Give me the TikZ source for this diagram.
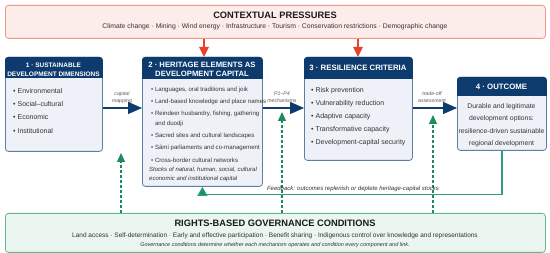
\documentclass[tikz,border=0pt]{standalone}
\usepackage{fontspec}
\setmainfont{Liberation Sans}
\usetikzlibrary{arrows.meta,calc}
\definecolor{navy}{HTML}{0E3B6D}
\definecolor{bodyfill}{HTML}{EEF2F8}
\definecolor{bodyline}{HTML}{5E7EA8}
\definecolor{pinkfill}{HTML}{FDEDEA}
\definecolor{pinkline}{HTML}{F0968A}
\definecolor{redarrow}{HTML}{E5432B}
\definecolor{greenfill}{HTML}{EAF6EF}
\definecolor{greenline}{HTML}{62B98F}
\definecolor{greenarrow}{HTML}{1E8C5A}
\definecolor{teal}{HTML}{2E9C86}
\definecolor{txt}{HTML}{333333}
\definecolor{ttl}{HTML}{1A1A1A}
\tikzset{
  bodybox/.style={draw=bodyline, fill=bodyfill, line width=0.8pt, rounded corners=3pt, inner sep=0pt, anchor=north west},
  pinkbox/.style={draw=pinkline, fill=pinkfill, line width=0.8pt, rounded corners=3pt, inner sep=0pt, anchor=north west},
  greenbox/.style={draw=greenline, fill=greenfill, line width=0.8pt, rounded corners=3pt, inner sep=0pt, anchor=north west},
  hdrtext/.style={text=white, font=\bfseries, align=center, inner sep=0pt},
  item/.style={text=txt, anchor=west, inner sep=0pt},
  lbl/.style={text=txt!80, font=\itshape\fontsize{5.2}{6}\selectfont, inner sep=0pt},
  barrow/.style={draw=navy, line width=1.2pt, -{Triangle[length=14pt,width=12pt]}},
  rarrow/.style={draw=redarrow, line width=1.2pt, -{Triangle[length=10pt,width=9.5pt]}},
  garrow/.style={draw=greenarrow, line width=1.1pt, dash pattern=on 3pt off 2pt, -{Triangle[length=9pt,width=8pt]}},
  fbarrow/.style={draw=teal, line width=1.2pt, -{Triangle[length=9pt,width=10pt,fill=greenarrow]}},
}
\begin{document}
\begin{tikzpicture}[x=1pt,y=-1pt]
\useasboundingbox (0,0) rectangle (550,253);
\fill[white] (0,0) rectangle (550,253);

% contextual pressures
\node[pinkbox, minimum width=540pt, minimum height=33pt] (top) at (5,5) {};
\node[text=ttl, font=\bfseries\fontsize{9.3}{11}\selectfont, inner sep=0pt] (toptitle) at (275,15) {CONTEXTUAL PRESSURES};
\node[text=txt, font=\fontsize{6.8}{8}\selectfont, inner sep=0pt] (topsub) at (275,27) {Climate change · Mining · Wind energy · Infrastructure · Tourism · Conservation restrictions · Demographic change};

% box 1
\node[bodybox, minimum width=97pt, minimum height=94pt] (b1) at (5,57) {};
\fill[navy, rounded corners=3pt] (b1.north west) rectangle (b1.east |- 0,78);
\fill[navy] (b1.west |- 0,72) rectangle (b1.east |- 0,78);
\node[hdrtext, font=\bfseries\fontsize{6.5}{9}\selectfont] (h1) at (53.5,69.5) {1 · SUSTAINABLE\\DEVELOPMENT DIMENSIONS};
\begin{scope}[font=\fontsize{7}{8}\selectfont]
\node[item] (b1a) at (13,91) {•~Environmental};
\node[item] (b1b) at (13,104) {•~Social–cultural};
\node[item] (b1c) at (13,117) {•~Economic};
\node[item] (b1d) at (13,131) {•~Institutional};
\end{scope}

% box 2
\node[bodybox, minimum width=120pt, minimum height=129pt] (b2) at (142,57) {};
\fill[navy, rounded corners=3pt] (b2.north west) rectangle (b2.east |- 0,79);
\fill[navy] (b2.west |- 0,73) rectangle (b2.east |- 0,79);
\node[hdrtext, font=\bfseries\fontsize{7.7}{9}\selectfont] (h2) at (202,69.5) {2 · HERITAGE ELEMENTS AS\\DEVELOPMENT CAPITAL};
\begin{scope}[font=\fontsize{6.1}{7}\selectfont]
\node[item] (b2a) at (151,90) {•~Languages, oral traditions and joik};
\node[item] (b2b) at (151,102) {•~Land-based knowledge and place names};
\node[item] (b2c) at (151,114) {•~Reindeer husbandry, fishing, gathering};
\node[item] (b2c2) at (154.8,124) {and duodji};
\node[item] (b2d) at (151,136) {•~Sacred sites and cultural landscapes};
\node[item] (b2e) at (151,148) {•~Sámi parliaments and co-management};
\node[item] (b2f) at (151,160) {•~Cross-border cultural networks};
\node[item, font=\itshape\fontsize{6}{7}\selectfont] (b2g) at (149,170) {Stocks of natural, human, social, cultural};
\node[item, font=\itshape\fontsize{6}{7}\selectfont] (b2h) at (149,179) {economic and institutional capital};
\end{scope}

% box 3
\node[bodybox, minimum width=108pt, minimum height=103pt] (b3) at (304,57) {};
\fill[navy, rounded corners=3pt] (b3.north west) rectangle (b3.east |- 0,79);
\fill[navy] (b3.west |- 0,73) rectangle (b3.east |- 0,79);
\node[hdrtext, font=\bfseries\fontsize{7.8}{9}\selectfont] (h3) at (358,67.5) {3 · RESILIENCE CRITERIA};
\begin{scope}[font=\fontsize{7}{8}\selectfont]
\node[item] (b3a) at (311,91) {•~Risk prevention};
\node[item] (b3b) at (311,104) {•~Vulnerability reduction};
\node[item] (b3c) at (311,117) {•~Adaptive capacity};
\node[item] (b3d) at (311,130) {•~Transformative capacity};
\node[item] (b3e) at (311,143) {•~Development-capital security};
\end{scope}

% box 4
\node[bodybox, minimum width=89pt, minimum height=73pt] (b4) at (457,77) {};
\fill[navy, rounded corners=3pt] (b4.north west) rectangle (b4.east |- 0,96);
\fill[navy] (b4.west |- 0,90) rectangle (b4.east |- 0,96);
\node[hdrtext, font=\bfseries\fontsize{7.8}{9}\selectfont] (h4) at (501.5,86.5) {4 · OUTCOME};
\node[text=txt, font=\fontsize{6.8}{12.6}\selectfont, align=center, inner sep=0pt, anchor=north] (b4t) at (501.5,103) {Durable and legitimate\\development options:\\resilience-driven sustainable\\regional development};

% governance box
\node[greenbox, minimum width=540pt, minimum height=39pt] (bot) at (5,213) {};
\node[text=ttl, font=\bfseries\fontsize{9.3}{11}\selectfont, inner sep=0pt] (bottitle) at (275,223.5) {RIGHTS-BASED GOVERNANCE CONDITIONS};
\node[text=txt, font=\fontsize{6.5}{8}\selectfont, inner sep=0pt] (botsub) at (275,236) {Land access · Self-determination · Early and effective participation · Benefit sharing · Indigenous control over knowledge and representations};
\node[text=txt, font=\itshape\fontsize{5.5}{7}\selectfont, inner sep=0pt] (botnote) at (275,245.5) {Governance conditions determine whether each mechanism operates and condition every component and link.};

% red pressure arrows
\draw[rarrow] (top.south -| 204,0) -- (b2.north -| 204,0);
\draw[rarrow] (top.south -| 358,0) -- (b3.north -| 358,0);

% main flow arrows
\draw[barrow] (b1.east |- 0,108) -- (b2.west |- 0,108);
\draw[barrow] (b2.east |- 0,108) -- (b3.west |- 0,108);
\draw[barrow] (b3.east |- 0,108) -- (b4.west |- 0,108);
\node[lbl] (l1a) at (122,94.5) {capital};
\node[lbl] (l1b) at (122,101.5) {mapping};
\node[lbl] (l2a) at (282,93.5) {P1–P4};
\node[lbl] (l2b) at (282,100.5) {mechanisms};
\node[lbl] (l3a) at (432,94) {trade-off};
\node[lbl] (l3b) at (432,101) {assessment};

% governance arrows
\coordinate (g1) at (121,153);
\coordinate (g2) at (282,112);
\coordinate (g3) at (433,115);
\draw[garrow] (bot.north -| g1) -- (g1);
\draw[garrow] (bot.north -| g2) -- (g2);
\draw[garrow] (bot.north -| g3) -- (g3);

% feedback loop
\draw[fbarrow] (b4.south) -- ++(0,44) -| (b2.south);
\node[text=txt, font=\itshape\fontsize{6}{7}\selectfont, inner sep=0pt] (fbl) at (353,189) {Feedback: outcomes replenish or deplete heritage-capital stocks};
\end{tikzpicture}
\end{document}
